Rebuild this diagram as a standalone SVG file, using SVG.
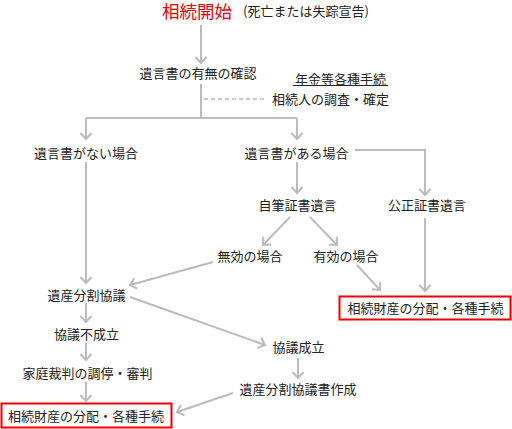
<svg xmlns="http://www.w3.org/2000/svg" width="512" height="429" viewBox="0 0 512 429">
<defs>
<style>
text{font-family:"Noto Sans CJK JP","Noto Sans",sans-serif;font-size:13px;fill:#222;text-anchor:middle}
.ln{stroke:#bbb;stroke-width:2;fill:none}
.arr{marker-end:url(#ah)}
.dash{stroke:#bbb;stroke-width:1.5;stroke-dasharray:4 3;fill:none}
.box{fill:#fff;stroke:#e00;stroke-width:2}
</style>
<marker id="ah" markerUnits="userSpaceOnUse" viewBox="-7 -7 9 14" refX="0" refY="0" markerWidth="9" markerHeight="14" orient="auto" overflow="visible">
<path d="M-6,-5.5 L0,0 L-6,5.5" fill="none" stroke="#bbb" stroke-width="2"/>
</marker>
</defs>
<rect width="512" height="429" fill="#fff"/>
<g id="connectors">
<path class="ln arr" d="M201,25 V63"/>
<path class="ln" d="M201,84 V118 M86,118 H297"/>
<path class="ln arr" d="M86,118 V139"/>
<path class="ln arr" d="M297,118 V139"/>
<path class="dash" d="M204,99 H267"/>
<path class="ln arr" d="M86,162 V283"/>
<path class="ln arr" d="M355,150 H425 V195"/>
<path class="ln arr" d="M297,162 V193"/>
<path class="ln arr" d="M290,217 L263,245"/>
<path class="ln arr" d="M310,217 L337,245"/>
<path class="ln arr" d="M357,265 L380,290"/>
<path class="ln arr" d="M425,218 V291"/>
<path class="ln arr" d="M213,262 L130,285"/>
<path class="ln arr" d="M130,297 L265,345"/>
<path class="ln arr" d="M86,303 V322"/>
<path class="ln arr" d="M86,343 V360"/>
<path class="ln arr" d="M86,382 V401"/>
<path class="ln arr" d="M298,358 V378"/>
<path class="ln arr" d="M233,393 L177,412"/>
</g>
<g id="start">
<text x="162" y="18" style="font-size:17.5px;fill:#e00;text-anchor:start">相続開始</text>
<text x="243" y="16" style="text-anchor:start">(死亡または失踪宣告)</text>
</g>
<g id="check"><text x="198" y="78">遺言書の有無の確認</text></g>
<g id="pension"><text x="340.5" y="83.5">年金等各種手続</text><path d="M293,85.5 H388" stroke="#222" stroke-width="1"/></g>
<g id="heirs"><text x="330.5" y="104">相続人の調査・確定</text></g>
<g id="no-will"><text x="86" y="158">遺言書がない場合</text></g>
<g id="will"><text x="296.5" y="158">遺言書がある場合</text></g>
<g id="holographic"><text x="297.5" y="210">自筆証書遺言</text></g>
<g id="notarial"><text x="427" y="210">公正証書遺言</text></g>
<g id="invalid"><text x="250" y="261">無効の場合</text></g>
<g id="valid"><text x="346" y="261">有効の場合</text></g>
<g id="dist1"><rect class="box" x="339.5" y="296.5" width="171" height="23"/><text x="425.5" y="313">相続財産の分配・各種手続</text></g>
<g id="negotiation"><text x="86.5" y="300">遺産分割協議</text></g>
<g id="fail"><text x="86.5" y="339">協議不成立</text></g>
<g id="court"><text x="87.5" y="378">家庭裁判の調停・審判</text></g>
<g id="dist2"><rect class="box" x="1.5" y="403.5" width="170" height="24"/><text x="86" y="421">相続財産の分配・各種手続</text></g>
<g id="success"><text x="298.5" y="352">協議成立</text></g>
<g id="document"><text x="298" y="394">遺産分割協議書作成</text></g>
</svg>
